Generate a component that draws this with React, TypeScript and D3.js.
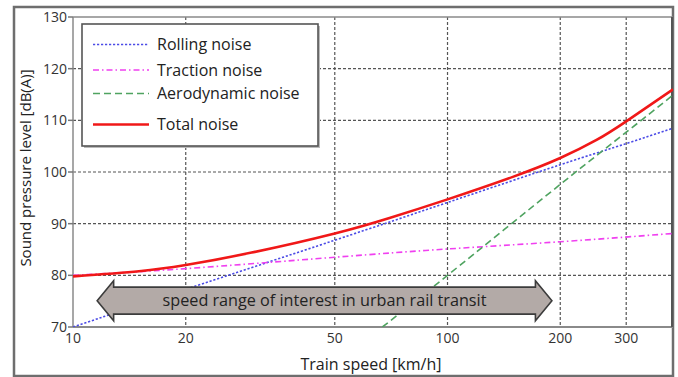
import React from "react";
import * as d3 from "d3";

const W = 678;
const H = 377;

// Axis ticks
const speedTicks = [10, 20, 50, 100, 200, 300];
const speedGrid = [20, 50, 100, 200, 300];
const levelTicks = [70, 80, 90, 100, 110, 120, 130];
const levelGrid = [80, 90, 100, 110, 120];

// Noise components, speed in km/h, level in dB(A)
const rollingSpeed = [10, 20, 50, 100, 200, 300, 400];
const rollingLevel = [70, 77.3, 86.8, 94.1, 101.4, 105.5, 108.5];

const tractionSpeed = [10, 20, 50, 100, 200, 400];
const tractionLevel = [80, 81.3, 83.5, 85.1, 86.5, 88.1];

const aeroSpeed = [67, 100, 200, 300, 400];
const aeroLevel = [70, 80, 97.6, 107.7, 114.9];

const totalSpeed = [10, 15, 20, 30, 50, 70, 100, 150, 200, 250, 300, 400];
const totalLevel = [79.8, 80.8, 82.0, 84.4, 88.1, 91.1, 94.7, 99.1, 102.7, 106.2, 109.8, 116.0];

const seriesNames = ["Rolling noise", "Traction noise", "Aerodynamic noise", "Total noise"];

// Speed band highlighted by the double arrow
const urbanRange = [11.6, 190];
const urbanLevel = 75;
const urbanLabel = "speed range of interest in urban rail transit";

const FONT = "'Open Sans', 'DejaVu Sans', sans-serif";

const styles = [
  { color: "#4b4be6", width: 1.6, dash: "2.2,1.8" },
  { color: "#f040f0", width: 1.6, dash: "6,3,1.5,3" },
  { color: "#4fa360", width: 1.6, dash: "7,4" },
  { color: "#f01818", width: 2.6, dash: null as string | null },
];

export default function App() {
  const left = 73;
  const right = 673;
  const top = 17;
  const bottom = 327;

  const x = d3.scaleLog().domain([10, 400]).range([left, right]);
  const y = d3.scaleLinear().domain([70, 130]).range([bottom, top]);

  const line = d3
    .line<[number, number]>()
    .x((d) => x(d[0]))
    .y((d) => y(d[1]))
    .curve(d3.curveNatural);

  const zip = (a: number[], b: number[]) => a.map((v, i) => [v, b[i]] as [number, number]);
  const series = [
    zip(rollingSpeed, rollingLevel),
    zip(tractionSpeed, tractionLevel),
    zip(aeroSpeed, aeroLevel),
    zip(totalSpeed, totalLevel),
  ];

  // double arrow geometry
  const ax0 = x(urbanRange[0]);
  const ax1 = x(urbanRange[1]);
  const ay = y(urbanLevel) - 0.5;
  const head = 16.5;
  const hh = 20;
  const sh = 13.5;
  const arrowPath =
    [
      [ax0, ay],
      [ax0 + head, ay - hh],
      [ax0 + head, ay - sh],
      [ax1 - head, ay - sh],
      [ax1 - head, ay - hh],
      [ax1, ay],
      [ax1 - head, ay + hh],
      [ax1 - head, ay + sh],
      [ax0 + head, ay + sh],
      [ax0 + head, ay + hh],
    ]
      .map((p, i) => (i ? "L" : "M") + p[0] + "," + p[1])
      .join("") + "Z";

  const legX = 82;
  const legY = 24;
  const legW = 236;
  const legH = 122;
  const legRows = [44.5, 70, 93.5, 124.5];

  return (
    <svg
      width={W}
      height={H}
      style={{ position: "absolute", left: 0, top: 0, background: "#fff" }}
      fontFamily={FONT}
    >
      <defs>
        <clipPath id="plot-clip">
          <rect x={left} y={top} width={right - left} height={bottom - top} />
        </clipPath>
      </defs>

      {/* figure frame */}
      <rect x={14} y={7} width={659} height={369} fill="none" stroke="#6e6e6e" strokeWidth={2.5} />

      {/* grid */}
      <g stroke="#555" strokeWidth={1.2} strokeDasharray="3,2">
        {levelGrid.map((v) => (
          <line key={"h" + v} x1={left} x2={right} y1={y(v)} y2={y(v)} />
        ))}
        {speedGrid.map((v) => (
          <line key={"v" + v} x1={x(v)} x2={x(v)} y1={top} y2={bottom} />
        ))}
      </g>

      {/* axes box */}
      <line x1={left} x2={right} y1={top} y2={top} stroke="#8a8a8a" strokeWidth={1.5} />
      <line x1={left} x2={left} y1={top} y2={bottom} stroke="#8a8a8a" strokeWidth={1.5} />
      <line x1={left} x2={right} y1={bottom} y2={bottom} stroke="#8a8a8a" strokeWidth={2} />
      <line x1={right - 1} x2={right - 1} y1={top} y2={bottom} stroke="#555" strokeWidth={2} />

      {/* y ticks and labels */}
      {levelTicks.map((v) => (
        <g key={"yt" + v}>
          <line x1={left - 5} x2={left} y1={y(v)} y2={y(v)} stroke="#777" strokeWidth={1.5} />
          <text x={left - 6} y={y(v)} dy="0.35em" textAnchor="end" fontSize={14} fill="#333">
            {v}
          </text>
        </g>
      ))}

      {/* x tick labels */}
      {speedTicks.map((v) => (
        <text key={"xt" + v} x={x(v)} y={343} textAnchor="middle" fontSize={14} fill="#333">
          {v}
        </text>
      ))}

      {/* curves */}
      <g clipPath="url(#plot-clip)" fill="none">
        {series.map((s, i) => (
          <path
            key={"s" + i}
            d={line(s) || ""}
            stroke={styles[i].color}
            strokeWidth={styles[i].width}
            strokeDasharray={styles[i].dash || undefined}
          />
        ))}
      </g>

      {/* urban speed range arrow */}
      <path d={arrowPath} fill="#b3aaa7" stroke="#3c3c3c" strokeWidth={1.6} strokeLinejoin="miter" />
      <text
        x={(ax0 + ax1) / 2}
        y={ay}
        dy="0.35em"
        textAnchor="middle"
        fontSize={16.2}
        fill="#222"
      >
        {urbanLabel}
      </text>

      {/* legend */}
      <rect x={legX + 2} y={legY + 2} width={legW} height={legH} fill="#bbb" />
      <rect x={legX} y={legY} width={legW} height={legH} fill="#fff" stroke="#555" strokeWidth={1.6} />
      {seriesNames.map((name, i) => (
        <g key={"lg" + i}>
          <line
            x1={93}
            x2={149}
            y1={legRows[i]}
            y2={legRows[i]}
            stroke={styles[i].color}
            strokeWidth={styles[i].width}
            strokeDasharray={styles[i].dash || undefined}
          />
          <text x={157} y={legRows[i]} dy="0.35em" fontSize={16} fill="#222">
            {name}
          </text>
        </g>
      ))}

      {/* axis titles */}
      <text x={371} y={370} textAnchor="middle" fontSize={16} fill="#222">
        Train speed [km/h]
      </text>
      <text transform="translate(31,168) rotate(-90)" textAnchor="middle" fontSize={15} fill="#222">
        Sound pressure level [dB(A)]
      </text>
    </svg>
  );
}
